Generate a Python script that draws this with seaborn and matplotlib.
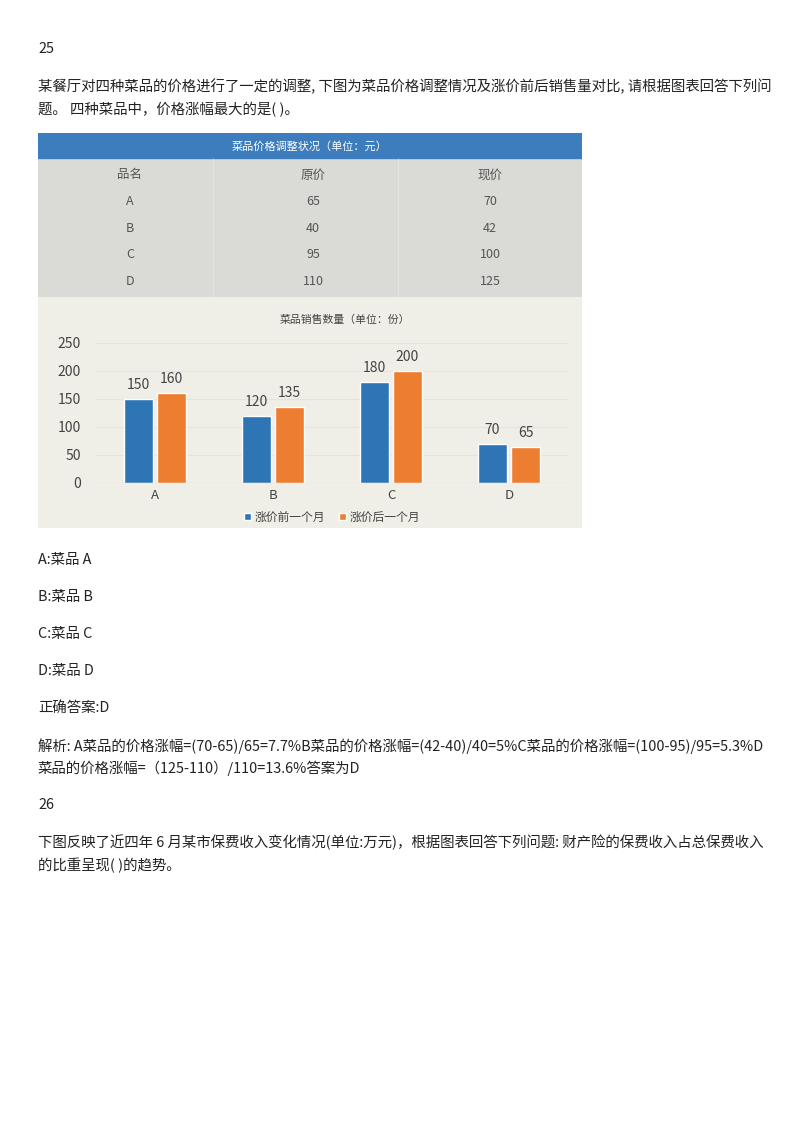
import pandas as pd
import matplotlib.pyplot as plt
import seaborn as sns

# 数据
dishes = ["A", "B", "C", "D"]
price_old = [65, 40, 95, 110]
price_new = [70, 42, 100, 125]
sales_before = [150, 120, 180, 70]
sales_after = [160, 135, 200, 65]
series_names = ["涨价前一个月", "涨价后一个月"]
table_title = "菜品价格调整状况（单位：元）"
table_head = ["品名", "原价", "现价"]
chart_title = "菜品销售数量（单位：份）"
y_ticks = [0, 50, 100, 150, 200, 250]

question = [
    "某餐厅对四种菜品的价格进行了一定的调整, 下图为菜品价格调整情况及涨价前后销售量对比, 请根据图表回答下列问",
    "题。 四种菜品中，价格涨幅最大的是( )。",
]
options = ["A:菜品 A", "B:菜品 B", "C:菜品 C", "D:菜品 D"]
answer = "正确答案:D"
analysis = [
    "解析: A菜品的价格涨幅=(70-65)/65=7.7%B菜品的价格涨幅=(42-40)/40=5%C菜品的价格涨幅=(100-95)/95=5.3%D",
    "菜品的价格涨幅=（125-110）/110=13.6%答案为D",
]
next_question = [
    "下图反映了近四年 6 月某市保费收入变化情况(单位:万元)，根据图表回答下列问题: 财产险的保费收入占总保费收入",
    "的比重呈现( )的趋势。",
]

sns.set_theme(style="white")
plt.rcParams["font.family"] = ["Noto Sans CJK SC", "DejaVu Sans"]

W, H = 800, 1132
fig = plt.figure(figsize=(W / 100, H / 100), dpi=100)
fig.patch.set_facecolor("white")


def fx(x):
    return x / W


def fy(y):
    return 1 - y / H


def txt(x, y, s, **kw):
    fig.text(fx(x), fy(y), s, va="center", ha="left", fontsize=10.4, color="#222222", **kw)


# 页面文字
txt(38, 49, "25")
for i, line in enumerate(question):
    txt(38, 87 + i * 23, line)
for i, opt in enumerate(options):
    txt(38, 560 + i * 37, opt)
txt(38, 708, answer)
for i, line in enumerate(analysis):
    txt(38, 746 + i * 22, line)
txt(38, 805, "26")
for i, line in enumerate(next_question):
    txt(38, 842 + i * 23, line)

# 表格部分
tab = fig.add_axes([fx(38), fy(297), 544 / W, 164 / H])
tab.set_xlim(0, 544)
tab.set_ylim(164, 0)
tab.set_facecolor("#dadad7")
tab.axhspan(0, 25, color="#3d7dbd")
tab.text(272, 13, table_title, ha="center", va="center", fontsize=8, color="white")
for xv in [175, 360]:
    tab.axvline(xv, ymin=0, ymax=1 - 25 / 164, color="white", lw=0.8, alpha=0.25)
col_x = [92, 275, 452]
for j, h in enumerate(table_head):
    tab.text(col_x[j], 42, h, ha="center", va="center", fontsize=9, color="#555555")
for i, name in enumerate(dishes):
    yy = 69 + i * 26.5
    row = [name, str(price_old[i]), str(price_new[i])]
    for j, v in enumerate(row):
        tab.text(col_x[j], yy, v, ha="center", va="center", fontsize=9, color="#555555")
tab.set_xticks([])
tab.set_yticks([])
for s in tab.spines.values():
    s.set_visible(False)

# 图表背景
bg = fig.add_axes([fx(38), fy(528), 544 / W, 231 / H])
bg.set_facecolor("#efeee7")
bg.set_xticks([])
bg.set_yticks([])
for s in bg.spines.values():
    s.set_visible(False)
fig.text(fx(345), fy(320), chart_title, ha="center", va="center", fontsize=7.8, color="#444444")

# 柱状图
df = pd.DataFrame({
    "菜品": dishes * 2,
    "数量": sales_before + sales_after,
    "时期": [series_names[0]] * 4 + [series_names[1]] * 4,
})
ax = fig.add_axes([fx(96), fy(483), 472 / W, 140 / H])
ax.set_facecolor("none")
sns.barplot(data=df, x="菜品", y="数量", hue="时期", palette=["#2e75b6", "#ed7d31"],
            width=0.56, gap=0.1, ax=ax, saturation=1)
ax.set_ylim(0, 250)
ax.set_xlim(-0.5, 3.5)
ax.set_yticks(y_ticks)
ax.yaxis.grid(True, color="#e4e3dc", lw=0.8)
ax.set_axisbelow(True)
ax.tick_params(axis="y", labelsize=10, colors="#444444", pad=11, length=0)
ax.tick_params(axis="x", labelsize=9.5, colors="#444444", pad=4, length=0)
ax.set_xlabel("")
ax.set_ylabel("")
for s in ax.spines.values():
    s.set_visible(False)
ax.axhline(0, color="#d8d7cf", lw=0.8)
for c in ax.containers:
    ax.bar_label(c, padding=5, fontsize=10, color="#444444", clip_on=False)
ax.legend(loc="upper center", bbox_to_anchor=(0.5, -0.12), ncol=2, frameon=False,
          fontsize=8.5, handlelength=0.6, handleheight=0.6, handletextpad=0.3,
          columnspacing=1.2, labelcolor="#444444")

fig.savefig("out.png", dpi=100)
